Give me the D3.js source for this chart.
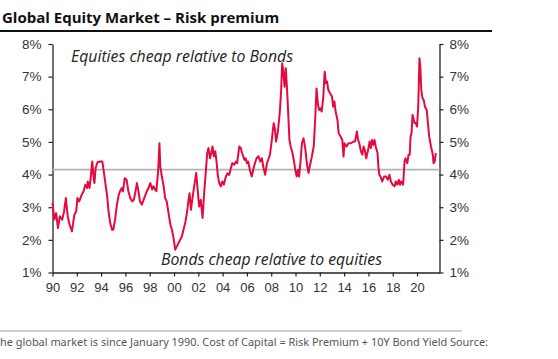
<!DOCTYPE html>
<html>
<head>
<meta charset="utf-8">
<script src="https://cdn.jsdelivr.net/npm/d3@7"></script>
<style>
  html, body { margin: 0; padding: 0; background: #fff; }
  svg { display: block; }
</style>
</head>
<body>
<svg id="chart" width="558" height="359"></svg>
<script>
const titleText = "Global Equity Market \u2013 Risk premium";
const footnoteText = "he global market is since January 1990. Cost of Capital = Risk Premium + 10Y Bond Yield Source:";
const upperNote = "Equities cheap relative to Bonds";
const lowerNote = "Bonds cheap relative to equities";
const yTickValues = [1, 2, 3, 4, 5, 6, 7, 8];
const xTickYears = [1990, 1992, 1994, 1996, 1998, 2000, 2002, 2004, 2006, 2008, 2010, 2012, 2014, 2016, 2018, 2020];
const averageLevel = [4.15];
const dates = [
  1990.00,1990.15,1990.30,1990.45,1990.60,1990.80,1990.95,1991.10,1991.25,1991.40,1991.60,1991.80,1991.95,
  1992.05,1992.20,1992.40,1992.55,1992.70,1992.85,1992.90,1993.05,1993.15,1993.27,1993.40,1993.45,1993.55,
  1993.70,1993.90,1994.10,1994.20,1994.35,1994.50,1994.60,1994.75,1994.90,1995.00,1995.15,1995.30,1995.45,
  1995.55,1995.70,1995.80,1995.95,1996.10,1996.25,1996.40,1996.55,1996.70,1996.80,1996.95,1997.10,1997.20,
  1997.35,1997.55,1997.75,1997.90,1998.05,1998.20,1998.30,1998.45,1998.55,1998.70,1998.80,1998.87,1999.00,
  1999.15,1999.27,1999.40,1999.55,1999.70,1999.83,1999.96,2000.10,2000.24,2000.37,2000.50,2000.65,2000.78,
  2000.92,2001.06,2001.20,2001.28,2001.40,2001.52,2001.66,2001.83,2001.97,2002.07,2002.20,2002.35,2002.48,
  2002.62,2002.73,2002.84,2002.96,2003.07,2003.17,2003.28,2003.40,2003.50,2003.60,2003.72,2003.85,2003.98,
  2004.10,2004.27,2004.40,2004.55,2004.68,2004.80,2004.95,2005.10,2005.20,2005.37,2005.50,2005.60,2005.80,
  2005.90,2006.00,2006.10,2006.27,2006.40,2006.55,2006.70,2006.80,2006.95,2007.10,2007.23,2007.37,2007.50,
  2007.65,2007.80,2007.90,2008.05,2008.20,2008.30,2008.40,2008.55,2008.70,2008.82,2008.90,2009.00,2009.10,
  2009.20,2009.30,2009.40,2009.50,2009.60,2009.75,2009.90,2010.00,2010.10,2010.20,2010.30,2010.40,2010.53,
  2010.66,2010.80,2010.95,2011.07,2011.20,2011.35,2011.50,2011.63,2011.73,2011.85,2011.95,2012.05,2012.15,
  2012.28,2012.40,2012.50,2012.60,2012.70,2012.85,2013.00,2013.10,2013.20,2013.30,2013.45,2013.55,2013.70,
  2013.85,2013.95,2014.03,2014.20,2014.36,2014.55,2014.77,2014.90,2015.05,2015.15,2015.25,2015.38,2015.50,
  2015.60,2015.70,2015.82,2015.95,2016.10,2016.20,2016.30,2016.40,2016.50,2016.60,2016.75,2016.82,2016.90,
  2017.00,2017.13,2017.30,2017.45,2017.60,2017.73,2017.85,2018.00,2018.15,2018.25,2018.38,2018.50,2018.60,
  2018.70,2018.85,2018.90,2018.97,2019.05,2019.20,2019.30,2019.40,2019.47,2019.55,2019.63,2019.70,2019.80,
  2019.90,2020.00,2020.10,2020.20,2020.27,2020.35,2020.45,2020.55,2020.65,2020.80,2020.90,2021.00,2021.15,
  2021.30,2021.36,2021.45,2021.55
];
const premium = [
  3.13,2.62,2.82,2.36,2.72,2.62,2.87,3.28,2.72,2.47,2.26,2.77,2.87,
  3.28,3.18,3.38,3.48,3.69,3.59,3.79,3.59,3.94,4.40,3.84,3.74,4.20,
  4.37,4.40,4.40,4.15,3.74,3.33,2.92,2.52,2.31,2.31,2.62,3.08,3.38,
  3.48,3.59,3.48,3.89,3.84,3.48,3.28,3.18,3.23,3.43,3.74,3.43,3.18,
  3.08,3.28,3.48,3.59,3.74,3.54,3.64,3.54,3.49,4.15,4.96,4.25,3.94,
  3.64,3.28,3.18,2.82,2.47,2.31,2.06,1.70,1.80,1.90,2.00,2.11,2.31,
  2.52,2.82,3.23,3.43,2.92,3.28,3.64,4.05,3.43,3.02,3.23,2.67,3.43,
  4.10,4.66,4.81,4.50,4.66,4.86,4.56,4.71,4.40,3.99,3.74,3.64,3.79,
  3.69,3.94,4.04,3.99,4.20,4.35,4.30,4.40,4.35,4.86,4.81,4.66,4.45,
  4.50,4.35,4.40,4.10,3.94,4.20,4.40,4.50,4.56,4.40,4.50,4.20,3.99,
  4.35,4.50,4.61,5.06,5.57,5.42,5.01,5.32,5.88,6.59,7.41,7.16,6.69,
  7.26,6.64,5.88,5.06,4.86,4.66,4.35,4.10,3.94,4.15,3.94,4.35,4.96,
  5.11,4.81,4.30,4.05,4.30,4.56,4.86,5.78,6.64,6.13,5.98,6.03,5.93,
  6.34,7.15,6.80,6.85,6.59,6.49,6.39,6.08,6.24,5.93,5.68,5.27,5.17,
  5.06,4.55,4.96,4.86,4.96,4.96,5.01,5.01,5.32,5.06,4.96,4.71,4.61,
  4.86,4.76,4.50,4.71,5.01,4.81,5.06,4.91,5.06,4.86,4.66,4.25,3.99,
  3.94,3.79,3.94,3.94,3.84,3.99,3.79,3.69,3.64,3.79,3.69,3.84,3.69,
  3.79,3.69,3.94,4.40,4.50,4.35,4.61,4.61,5.17,5.27,5.83,5.73,5.58,
  5.58,5.47,6.08,7.56,7.31,6.59,6.34,6.29,6.08,5.98,5.57,5.17,4.86,
  4.61,4.35,4.40,4.66
];

const svg = d3.select("#chart");
const plotLeft = 52.5, plotRight = 439.5, plotTop = 44, plotBottom = 272.5;

const x = d3.scaleLinear().domain([1990, 2021.85]).range([plotLeft, plotRight]);
const y = d3.scaleLinear().domain([1, 8]).range([plotBottom, plotTop]);

// Title
svg.append("text")
  .attr("x", 2).attr("y", 23)
  .attr("font-family", "'Open Sans', sans-serif")
  .attr("font-weight", 700)
  .attr("font-size", 15)
  .attr("fill", "#111")
  .text(titleText);
svg.append("line")
  .attr("x1", 0).attr("x2", 492)
  .attr("y1", 31).attr("y2", 31)
  .attr("stroke", "#111").attr("stroke-width", 2);

// Axes
const axisFont = "'Liberation Sans', Arial, sans-serif";
const fmtPct = d => d + "%";

const gL = svg.append("g").attr("transform", `translate(${plotLeft},0)`)
  .call(d3.axisLeft(y).tickValues(yTickValues).tickFormat(fmtPct).tickSize(4).tickSizeOuter(0).tickPadding(7));
const gR = svg.append("g").attr("transform", `translate(${plotRight},0)`)
  .call(d3.axisRight(y).tickValues(yTickValues).tickFormat(fmtPct).tickSize(4).tickSizeOuter(0).tickPadding(6));
const gB = svg.append("g").attr("transform", `translate(0,${plotBottom})`)
  .call(d3.axisBottom(x).tickValues(xTickYears).tickFormat(d => String(d).slice(2)).tickSize(4).tickSizeOuter(0).tickPadding(6));

[gL, gR, gB].forEach(g => {
  g.select(".domain").attr("stroke", "#222").attr("stroke-width", 1.3);
  g.selectAll(".tick line").attr("stroke", "#222").attr("stroke-width", 1.2);
  g.selectAll(".tick text").attr("font-family", axisFont).attr("font-size", 13.5).attr("fill", "#333");
});
gB.selectAll(".tick text").attr("font-size", 13);

// Reference level
svg.selectAll(".avg").data(averageLevel).enter().append("line")
  .attr("class", "avg")
  .attr("x1", plotLeft).attr("x2", plotRight)
  .attr("y1", d => y(d)).attr("y2", d => y(d))
  .attr("stroke", "#b4b4b4").attr("stroke-width", 1.8);

// Series line
const series = dates.map((d, i) => ({ t: d, v: premium[i] }));
const line = d3.line().x(d => x(d.t)).y(d => y(d.v));
svg.append("path")
  .datum(series)
  .attr("d", line)
  .attr("fill", "none")
  .attr("stroke", "#e30b3d")
  .attr("stroke-width", 2)
  .attr("stroke-linejoin", "round");

// Annotations
const noteFont = "'Open Sans', sans-serif";
svg.append("text")
  .attr("x", 71).attr("y", 62)
  .attr("font-family", noteFont).attr("font-style", "italic")
  .attr("font-size", 15.5).attr("fill", "#222")
  .attr("textLength", 222).attr("lengthAdjust", "spacingAndGlyphs")
  .text(upperNote);
svg.append("text")
  .attr("x", 161).attr("y", 265)
  .attr("font-family", noteFont).attr("font-style", "italic")
  .attr("font-size", 15.5).attr("fill", "#222")
  .attr("textLength", 221).attr("lengthAdjust", "spacingAndGlyphs")
  .text(lowerNote);

// Footnote
svg.append("line")
  .attr("x1", 0).attr("x2", 462)
  .attr("y1", 331).attr("y2", 331)
  .attr("stroke", "#9a9a9a").attr("stroke-width", 1);
svg.append("text")
  .attr("x", 0).attr("y", 346)
  .attr("font-family", "'Noto Sans', sans-serif")
  .attr("font-size", 10.5).attr("fill", "#555")
  .attr("textLength", 488).attr("lengthAdjust", "spacingAndGlyphs")
  .text(footnoteText);
</script>
</body>
</html>
